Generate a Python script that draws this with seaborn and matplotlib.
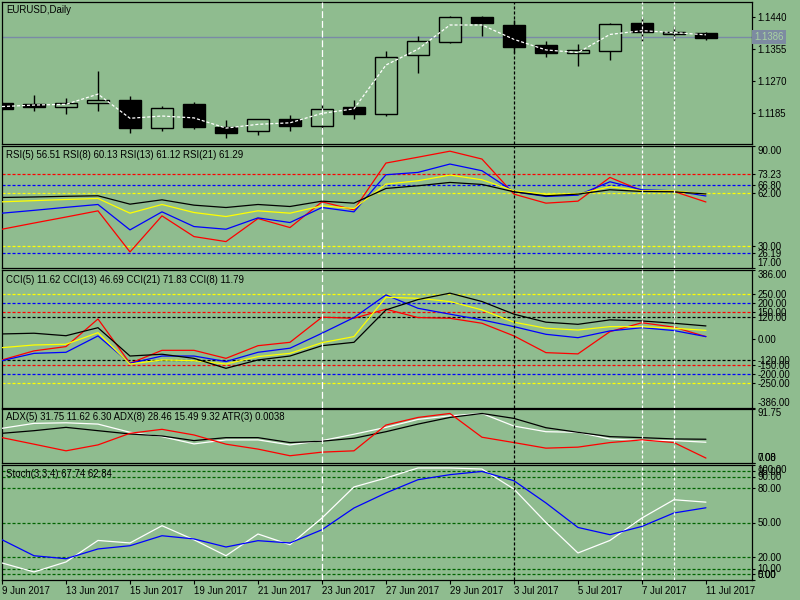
import numpy as np
import pandas as pd
import matplotlib
matplotlib.use("Agg")
import matplotlib.pyplot as plt
import seaborn as sns

sns.set_style("white")
plt.rcParams['font.family'] = ['Liberation Sans', 'DejaVu Sans']
plt.rcParams['lines.scale_dashes'] = False

# --- data ---
dates = ["9 Jun 2017", "12 Jun 2017", "13 Jun 2017", "14 Jun 2017", "15 Jun 2017",
         "16 Jun 2017", "19 Jun 2017", "20 Jun 2017", "21 Jun 2017", "22 Jun 2017",
         "23 Jun 2017", "26 Jun 2017", "27 Jun 2017", "28 Jun 2017", "29 Jun 2017",
         "30 Jun 2017", "3 Jul 2017", "4 Jul 2017", "5 Jul 2017", "6 Jul 2017",
         "7 Jul 2017", "10 Jul 2017", "11 Jul 2017"]

opens = [1.1211, 1.1209, 1.1202, 1.1211, 1.1219, 1.1145, 1.1209, 1.1147, 1.1136, 1.1169,
         1.1151, 1.1200, 1.1182, 1.1339, 1.1374, 1.1438, 1.1418, 1.1365, 1.1343, 1.1350,
         1.1423, 1.1394, 1.1396]
highs = [1.1213, 1.1233, 1.1224, 1.1297, 1.1230, 1.1204, 1.1215, 1.1167, 1.1169, 1.1180,
         1.1209, 1.1219, 1.1349, 1.1389, 1.1442, 1.1442, 1.1431, 1.1375, 1.1368, 1.1424,
         1.1438, 1.1415, 1.1399]
lows = [1.1193, 1.1191, 1.1182, 1.1191, 1.1131, 1.1138, 1.1143, 1.1120, 1.1127, 1.1138,
        1.1143, 1.1169, 1.1178, 1.1290, 1.1371, 1.1390, 1.1345, 1.1334, 1.1310, 1.1325,
        1.1376, 1.1378, 1.1378]
closes = [1.1195, 1.1202, 1.1211, 1.1219, 1.1146, 1.1197, 1.1149, 1.1133, 1.1168, 1.1151,
          1.1195, 1.1182, 1.1334, 1.1375, 1.1438, 1.1423, 1.1361, 1.1343, 1.1351, 1.1420,
          1.1399, 1.1399, 1.1384]
ma = [1.1202, 1.1206, 1.1208, 1.1235, 1.1171, 1.1177, 1.1172, 1.1145, 1.1155, 1.1159,
      1.1184, 1.1196, 1.1312, 1.1354, 1.1418, 1.1418, 1.1380, 1.1352, 1.1345, 1.1393,
      1.1403, 1.1398, 1.1392]
bid = 1.1386

rsi5 = [40.2, 43.9, 47.5, 51.2, 26.6, 48.2, 35.8, 32.8, 46.6, 41.2, 56.6, 51.8, 79.8,
        83.3, 86.9, 82.2, 61.2, 55.8, 57.0, 71.2, 63.2, 62.8, 56.5]
rsi8 = [49.8, 51.5, 53.3, 55.0, 39.8, 50.6, 41.8, 40.2, 47.0, 44.2, 53.2, 50.6, 72.8,
        74.2, 79.2, 75.2, 62.6, 59.8, 60.6, 68.6, 63.8, 63.2, 60.1]
rsi13 = [56.6, 57.3, 58.0, 58.6, 49.8, 55.0, 50.2, 47.8, 51.2, 49.8, 54.2, 52.6, 67.2,
         69.2, 72.6, 69.8, 63.2, 61.2, 61.2, 65.6, 63.2, 63.2, 61.1]
rsi21 = [59.2, 59.5, 59.9, 60.2, 55.2, 57.8, 54.6, 53.2, 55.0, 53.8, 57.0, 55.8, 64.6,
         66.2, 68.2, 67.0, 62.6, 60.2, 61.2, 63.8, 62.8, 62.6, 61.3]

cci5 = [-119, -68, -44, 111, -138, -65, -65, -110, -39, -20, 121, 115, 166, 119, 115,
        87, 16, -78, -85, 40, 90, 65, 12]
cci8 = [-123, -82, -76, 16, -138, -97, -97, -128, -76, -53, 31, 119, 246, 171, 138,
        106, 68, 25, 6, 44, 62, 46, 12]
cci13 = [-50, -35, -31, 34, -142, -119, -123, -142, -100, -82, -22, 12, 233, 227, 209,
         162, 93, 59, 49, 68, 68, 59, 47]
cci21 = [27, 31, 17, 62, -97, -87, -110, -166, -119, -97, -39, -20, 162, 220, 256,
         209, 138, 93, 81, 106, 100, 87, 72]

adx_w = [58.4, 66.7, 67.7, 65.5, 51.7, 44.4, 32.2, 38.9, 38.9, 30.5, 37.7, 48.4, 60.0,
         73.4, 79.4, 83.4, 62.2, 52.7, 51.7, 40.5, 37.7, 37.7, 35.0]
adx_k = [50.0, 54.4, 60.0, 54.4, 48.9, 45.5, 37.7, 42.7, 42.7, 34.4, 36.7, 41.7, 52.7,
         65.5, 76.7, 83.4, 75.1, 59.4, 51.7, 44.4, 42.7, 40.5, 40.0]
adx_r = [42.7, 31.7, 20.5, 30.5, 50.0, 56.7, 47.2, 31.7, 23.4, 12.2, 18.3, 20.5, 63.9,
         76.7, 83.4, 43.4, 34.4, 25.0, 26.7, 34.4, 38.9, 34.4, 8.3]

stoch_main = [14.8, 7.0, 15.7, 34.4, 32.2, 47.2, 35.0, 21.1, 40.0, 30.7, 53.9, 80.9, 88.7,
              97.4, 97.4, 96.5, 79.1, 50.0, 23.5, 34.4, 53.9, 69.8, 67.7]
stoch_sig = [35.0, 21.1, 18.5, 27.0, 29.8, 38.5, 35.7, 28.7, 34.2, 32.2, 43.7, 62.6, 75.7,
             87.2, 91.6, 94.4, 86.3, 67.0, 45.7, 39.4, 46.6, 58.3, 62.8]

df = pd.DataFrame({
    "i": np.arange(len(dates)), "open": opens, "high": highs, "low": lows, "close": closes,
    "ma": ma, "rsi5": rsi5, "rsi8": rsi8, "rsi13": rsi13, "rsi21": rsi21,
    "cci5": cci5, "cci8": cci8, "cci13": cci13, "cci21": cci21,
    "adx_w": adx_w, "adx_k": adx_k, "adx_r": adx_r,
    "st_main": stoch_main, "st_sig": stoch_sig,
})

BG = "#8fbc8f"
FS = 6.9
SHORT = (0, (2.2, 1.4))
LONG = (0, (5.0, 2.0))

fig = plt.figure(figsize=(8, 6), dpi=100, facecolor=BG)


def panel(top, bottom):
    ax = fig.add_axes([2 / 800, 1 - bottom / 600, 750 / 800, (bottom - top) / 600])
    ax.set_facecolor(BG)
    for s in ax.spines.values():
        s.set_color("black")
        s.set_linewidth(0.9)
    ax.set_xlim(0, 23.44)
    ax.yaxis.tick_right()
    ax.tick_params(axis="y", which="both", right=True, left=False, length=2.5, width=0.8,
                   pad=1.5, labelsize=FS, colors="black", direction="out")
    ax.tick_params(axis="x", bottom=False, labelbottom=False)
    ax.grid(False)
    return ax


def right_labels(ax, vals, labels, top_val=None, bottom_val=None):
    ax.set_yticks(vals)
    ax.set_yticklabels(labels)
    for lab, v in zip(ax.get_yticklabels(), vals):
        if top_val is not None and v == top_val:
            lab.set_va("top")
        if bottom_val is not None and v == bottom_val:
            lab.set_va("bottom")


def vlines(ax):
    ax.axvline(10, color="white", lw=0.9, ls=LONG, zorder=6)
    ax.axvline(16, color="black", lw=0.9, ls=SHORT, zorder=6)
    ax.axvline(20, color="white", lw=0.9, ls=SHORT, zorder=6)
    ax.axvline(21, color="white", lw=0.9, ls=SHORT, zorder=6)


def line(ax, col, color, ls="-"):
    sns.lineplot(data=df, x="i", y=col, ax=ax, color=color, linewidth=0.9,
                 linestyle=ls, zorder=4)
    ax.set_xlabel("")
    ax.set_ylabel("")


# --- price panel ---
ax_p = panel(2, 144)
ax_p.set_ylim(1.11029, 1.14789)
ax_p.axhline(bid, color="#7a8aa6", lw=1.0, zorder=1)
bull = df["close"] >= df["open"]
ax_p.vlines(df["i"], df["low"], df["high"], color="black", lw=1.0, zorder=2)
ax_p.bar(df["i"], (df["close"] - df["open"]).abs(), bottom=df[["open", "close"]].min(axis=1),
         width=0.7, color=np.where(bull, BG, "black"), edgecolor="black", linewidth=1.0, zorder=3)
line(ax_p, "ma", "white", SHORT)
right_labels(ax_p, [1.1440, 1.1355, 1.1270, 1.1185], ["1.1440", "1.1355", "1.1270", "1.1185"])
ax_p.set_xlim(0, 23.44)
ax_p.text(1.003, bid, "1.1386", transform=ax_p.get_yaxis_transform(), ha="left", va="center",
          fontsize=FS, color="#a9d3a2", clip_on=False,
          bbox=dict(boxstyle="square,pad=0.22", fc="#7d8ba1", ec="none"))
vlines(ax_p)

# --- RSI panel ---
ax_r = panel(146, 268)
ax_r.set_ylim(17, 90)
for lv, c in [(73.23, "red"), (66.80, "blue"), (26.19, "blue"), (62.00, "yellow"), (30.00, "yellow")]:
    ax_r.axhline(lv, color=c, lw=0.9, ls=SHORT, zorder=1)
line(ax_r, "rsi5", "red")
line(ax_r, "rsi8", "blue")
line(ax_r, "rsi13", "yellow")
line(ax_r, "rsi21", "black")
rv = [90, 73.23, 66.80, 62.00, 30.00, 26.19, 17]
right_labels(ax_r, rv, ["%.2f" % v for v in rv], top_val=90, bottom_val=17)
vlines(ax_r)

# --- CCI panel ---
ax_c = panel(270, 407.5)
ax_c.set_ylim(-386, 386)
for lv, c in [(250, "yellow"), (-250, "yellow"), (200, "blue"), (-200, "blue"),
              (150, "red"), (-150, "red"), (120, "black"), (-120, "black")]:
    ax_c.axhline(lv, color=c, lw=0.9, ls=SHORT, zorder=1)
line(ax_c, "cci5", "red")
line(ax_c, "cci8", "blue")
line(ax_c, "cci13", "yellow")
line(ax_c, "cci21", "black")
cv = [386, 250, 200, 150, 120, 0, -120, -150, -200, -250, -386]
right_labels(ax_c, cv, ["%.2f" % v for v in cv], top_val=386, bottom_val=-386)
vlines(ax_c)

# --- ADX panel ---
ax_a = panel(408.5, 463)
ax_a.set_ylim(0, 91.75)
line(ax_a, "adx_w", "white")
line(ax_a, "adx_k", "black")
line(ax_a, "adx_r", "red")
right_labels(ax_a, [91.75, 0, 0.0001], ["91.75", "0.00", "7.08"], top_val=91.75)
for lab in ax_a.get_yticklabels()[1:]:
    lab.set_va("bottom")
vlines(ax_a)

# --- Stochastic panel ---
ax_s = panel(465, 580)
ax_s.set_ylim(0, 100)
for lv in [95, 90, 80, 50, 20, 10, 5]:
    ax_s.axhline(lv, color="#006400", lw=0.9, ls=SHORT, zorder=1)
line(ax_s, "st_main", "white")
line(ax_s, "st_sig", "blue")
sv = [100, 95, 90, 80, 50, 20, 10, 5, 0]
right_labels(ax_s, sv, ["%.2f" % v for v in sv], top_val=100, bottom_val=0)
vlines(ax_s)
ax_s.set_xticks(df["i"][::2])
ax_s.set_xticklabels(dates[::2], ha="left")
ax_s.tick_params(axis="x", bottom=True, labelbottom=True, length=3, width=0.8, pad=1.5,
                 labelsize=FS, colors="black", direction="out")
ax_s.set_xlim(0, 23.44)

# --- headers ---
for y, txt in [(10, "EURUSD,Daily"),
               (155.5, "RSI(5) 56.51 RSI(8) 60.13 RSI(13) 61.12 RSI(21) 61.29"),
               (280, "CCI(5) 11.62 CCI(13) 46.69 CCI(21) 71.83 CCI(8) 11.79"),
               (417.5, "ADX(5) 31.75 11.62 6.30 ADX(8) 28.46 15.49 9.32 ATR(3) 0.0038"),
               (474, "Stoch(3,3,4) 67.74 62.84")]:
    fig.text(6.5 / 800, 1 - y / 600, txt, ha="left", va="center", fontsize=FS, color="black")

fig.savefig("out.png", dpi=100, facecolor=BG)
